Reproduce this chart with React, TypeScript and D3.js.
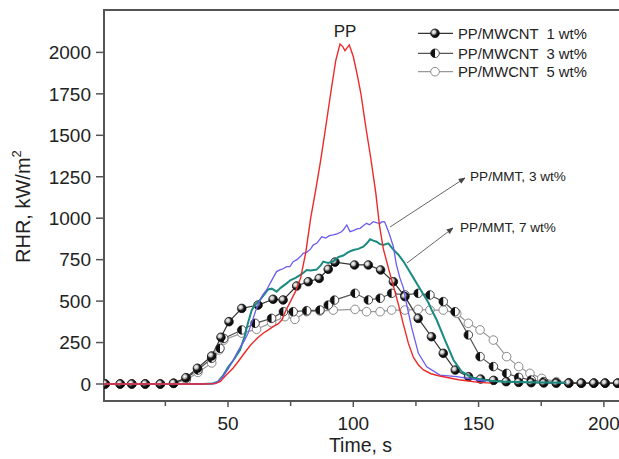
import React from "react";
import * as d3 from "d3";

// ---- data ----
const xTicksMajor = [50, 100, 150, 200];
const xTicksMinor = [25, 75, 125, 175];
const yTicks = [0, 250, 500, 750, 1000, 1250, 1500, 1750, 2000];

const ppTime = [0, 20, 40, 45, 47, 49, 52, 54, 56, 59, 62, 64, 66, 68, 70, 71.5, 73, 75, 77, 79, 81, 83, 85, 87, 89, 91, 93, 94.7, 95.8, 96.7, 98.4, 100, 101.5, 103, 105, 107, 109, 110.5, 112, 114, 116, 118, 120, 122, 124, 126, 128, 131, 134, 138, 142, 146, 150, 155];
const ppValue = [0, 0, 0, 2, 15, 50, 95, 134, 175, 235, 280, 306, 325, 346, 362, 386, 440, 500, 560, 640, 790, 1000, 1170, 1350, 1550, 1755, 1950, 2050, 2035, 2010, 2045, 1975, 1870, 1755, 1550, 1360, 1150, 950, 815, 700, 590, 480, 360, 245, 160, 115, 85, 62, 50, 38, 26, 18, 10, 5];

const mmt3Time = [0, 20, 40, 44, 46, 48, 50, 52, 53.5, 55, 56.5, 58, 59.5, 61, 62.8, 64, 65.4, 66.8, 68, 69.4, 70.7, 72, 73.4, 74.7, 76, 77.5, 79, 80, 81.5, 83, 84, 85.5, 87.4, 89, 90.5, 92, 93.5, 95, 96, 97.4, 98.7, 100, 101.5, 102.7, 104, 105.3, 106.5, 108, 109.5, 110.7, 111.5, 112.5, 113.3, 114.5, 116, 117.2, 118.6, 120, 121.3, 123.3, 126, 129.3, 134.6, 141.3, 147.9, 153];
const mmt3Value = [0, 0, 0, 3, 14, 45, 90, 140, 185, 225, 260, 306, 370, 440, 507, 540, 567, 607, 640, 678, 688, 695, 708, 708, 738, 750, 770, 788, 795, 815, 838, 850, 888, 880, 895, 899, 905, 915, 929, 959, 919, 925, 935, 939, 955, 969, 960, 979, 972, 969, 979, 978, 949, 900, 828, 720, 640, 580, 480, 340, 185, 104, 54, 44, 28, 15];

const mmt7Time = [0, 20, 40, 44, 46, 48, 50, 52, 54.8, 56.5, 58, 59.5, 61, 62.8, 64.5, 66, 67.5, 69.4, 71, 73.4, 75, 77, 78.7, 80, 81.4, 83, 85.4, 87, 88, 90, 92, 94, 96, 98, 100, 102, 104, 105.5, 106.7, 108, 109.3, 110.5, 112, 114, 116, 118, 120, 122, 124, 126, 128, 130, 131.5, 133.3, 136.6, 140, 143.3, 147.9, 154.6, 160, 170, 185];
const mmt7Value = [0, 0, 0, 3, 14, 50, 100, 140, 205, 280, 370, 446, 480, 507, 540, 570, 575, 557, 580, 607, 627, 640, 657, 670, 688, 685, 690, 715, 738, 730, 740, 765, 775, 795, 808, 815, 828, 850, 873, 865, 858, 845, 838, 848, 810, 780, 740, 690, 640, 590, 540, 490, 440, 386, 265, 145, 74, 34, 20, 14, 10, 8];

const mw1Time = [1, 7, 11.6, 17, 23, 28.3, 33.2, 37.8, 43.5, 47.2, 50.4, 55.5, 62, 68, 72, 77.4, 82, 86.4, 90, 92.7, 100.5, 106, 110.9, 116, 120.6, 125.9, 131.2, 135.9, 140.7, 146, 150.8, 156, 161, 166, 171, 176, 181, 186, 191, 196, 200.5, 205.5];
const mw1Value = [0, 0, 0, 0, 0, 4, 38, 95, 169, 282, 376, 456, 476, 511, 507, 591, 617, 637, 692, 735, 718, 718, 688, 617, 527, 396, 285, 185, 84, 44, 30, 22, 14, 10, 8, 6, 5, 5, 5, 5, 5, 5];

const mw3Time = [1, 7, 11.6, 17, 23, 28.3, 33.4, 38, 43.5, 46.8, 48.3, 55.5, 60.8, 67.4, 72.1, 76, 81.4, 86.7, 90, 92.5, 100.7, 106, 110.7, 115.3, 120.6, 125.9, 130.6, 135.9, 140.6, 145.9, 150.6, 155.9, 161.2, 166, 171, 176, 181, 186, 191, 196, 200.5, 205.5];
const mw3Value = [0, 0, 0, 0, 0, 5, 36, 84, 155, 215, 275, 326, 366, 396, 436, 436, 442, 446, 476, 506, 547, 507, 517, 547, 537, 547, 537, 497, 436, 296, 165, 105, 64, 40, 24, 14, 8, 6, 5, 5, 5, 5];

const mw5Time = [1, 7, 11.6, 17, 23, 28.3, 33.4, 38, 43.5, 46.5, 48.3, 55.5, 61.4, 67.4, 72.7, 76.7, 81.4, 86.7, 92, 100.7, 105.3, 110.7, 115.3, 120.6, 125.9, 130.6, 135.9, 141.3, 145.9, 150.6, 155.9, 161.2, 166, 170.5, 175.2, 181, 186, 191, 196, 200.5, 205.5];
const mw5Value = [0, 0, 0, 0, 0, 3, 25, 70, 127, 205, 265, 307, 330, 370, 406, 390, 436, 440, 446, 450, 436, 436, 446, 446, 450, 446, 446, 426, 366, 326, 265, 165, 105, 64, 34, 14, 8, 6, 5, 5, 5];

const legendLabels = ["PP/MWCNT  1 wt%", "PP/MWCNT  3 wt%", "PP/MWCNT  5 wt%"];
const annotationLabels = ["PP/MMT, 3 wt%", "PP/MMT, 7 wt%"];

const FONT = "'Liberation Sans', Arial, Helvetica, sans-serif";

export default function App() {
  const W = 619, H = 459;
  const left = 104, top = 10, bottom = 401, right = 619;
  const x = d3.scaleLinear().domain([0, 206]).range([102.7, 618.9]);
  const y = d3.scaleLinear().domain([0, 2000]).range([384, 52.4]);

  const line = d3.line<[number, number]>().x(d => x(d[0])).y(d => y(d[1]));
  const zip = (t: number[], v: number[]) => t.map((tt, i) => [tt, v[i]] as [number, number]);

  const pp = zip(ppTime, ppValue);
  const m3 = zip(mmt3Time, mmt3Value);
  const m7 = zip(mmt7Time, mmt7Value);
  const w1 = zip(mw1Time, mw1Value);
  const w3 = zip(mw3Time, mw3Value);
  const w5 = zip(mw5Time, mw5Value);

  const r = 4.3;
  const marker1 = (cx: number, cy: number, k: number) => (
    <g key={k}>
      <circle cx={cx} cy={cy} r={r} fill="url(#sphere)" stroke="#111" strokeWidth={0.8} />
    </g>
  );
  const marker3 = (cx: number, cy: number, k: number) => (
    <g key={k}>
      <circle cx={cx} cy={cy} r={r} fill="#fff" stroke="#222" strokeWidth={0.8} />
      <path d={`M${cx},${cy - r} A${r},${r} 0 0,0 ${cx},${cy + r} Z`} fill="#111" />
    </g>
  );
  const marker5 = (cx: number, cy: number, k: number) => (
    <circle key={k} cx={cx} cy={cy} r={r} fill="#fff" stroke="#8a8a8a" strokeWidth={1} />
  );

  const legendY = [33.3, 53.3, 71.7];
  const legendMarkers = [marker1, marker3, marker5];
  const legendLine = ["#333", "#555", "#999"];

  return (
    <svg width={W} height={H} style={{ position: "absolute", left: 0, top: 0, background: "#fff" }} fontFamily={FONT}>
      <defs>
        <radialGradient id="sphere" cx="35%" cy="35%" r="65%">
          <stop offset="0%" stopColor="#ffffff" />
          <stop offset="35%" stopColor="#bbbbbb" />
          <stop offset="60%" stopColor="#222" />
          <stop offset="100%" stopColor="#000" />
        </radialGradient>
        <marker id="arrow" viewBox="0 0 10 10" refX="9" refY="5" markerWidth="7" markerHeight="7" orient="auto">
          <path d="M0,1 L10,5 L0,9 z" fill="#444" />
        </marker>
        <clipPath id="plot">
          <rect x={left} y={top} width={right - left} height={bottom - top} />
        </clipPath>
      </defs>
      <rect width={W} height={H} fill="#fff" />

      {/* frame */}
      <line x1={left} x2={right} y1={top} y2={top} stroke="#555" strokeWidth={2} />
      <line x1={left} x2={left} y1={top - 1} y2={bottom + 1} stroke="#555" strokeWidth={2} />
      <line x1={left} x2={right} y1={bottom} y2={bottom} stroke="#555" strokeWidth={2} />

      {/* y ticks */}
      {yTicks.map(t => (
        <g key={t}>
          <line x1={96} x2={left} y1={y(t)} y2={y(t)} stroke="#555" strokeWidth={1.5} />
          <text x={91} y={y(t)} dy="0.36em" textAnchor="end" fontSize={19} fill="#222">{t}</text>
        </g>
      ))}
      {/* x ticks */}
      {xTicksMajor.map(t => (
        <g key={t}>
          <line x1={x(t)} x2={x(t)} y1={bottom} y2={bottom + 6} stroke="#555" strokeWidth={1.5} />
          <text x={x(t)} y={430} textAnchor="middle" fontSize={19} fill="#222">{t}</text>
        </g>
      ))}
      {xTicksMinor.map(t => (
        <line key={t} x1={x(t)} x2={x(t)} y1={bottom} y2={bottom + 5} stroke="#555" strokeWidth={1.5} />
      ))}

      {/* axis titles */}
      <text x={360.5} y={452} textAnchor="middle" fontSize={19.5} fill="#222">Time, s</text>
      <text transform="translate(30,263) rotate(-90)" fontSize={20} fill="#222">
        RHR, kW/m<tspan fontSize={13} dy={-9}>2</tspan>
      </text>

      <g clipPath="url(#plot)">
        {/* marker series lines */}
        <path d={line(w5) || ""} fill="none" stroke="#999" strokeWidth={1.2} />
        <path d={line(w3) || ""} fill="none" stroke="#555" strokeWidth={1.2} />
        <path d={line(w1) || ""} fill="none" stroke="#333" strokeWidth={1.2} />
        {w5.map((d, i) => marker5(x(d[0]), y(d[1]), i))}
        {w3.map((d, i) => marker3(x(d[0]), y(d[1]), i))}
        {w1.map((d, i) => marker1(x(d[0]), y(d[1]), i))}

        {/* continuous curves */}
        <path d={line(m7) || ""} fill="none" stroke="#1b8a80" strokeWidth={2} />
        <path d={line(m3) || ""} fill="none" stroke="#6b5cf2" strokeWidth={1.3} />
        <path d={line(pp) || ""} fill="none" stroke="#ec2a2a" strokeWidth={1.4} />
      </g>

      {/* PP label */}
      <text x={345} y={37} textAnchor="middle" fontSize={17} fill="#222">PP</text>

      {/* legend */}
      {legendLabels.map((lab, i) => (
        <g key={lab}>
          <line x1={418} x2={453} y1={legendY[i]} y2={legendY[i]} stroke={legendLine[i]} strokeWidth={1.2} />
          {legendMarkers[i](435, legendY[i], i)}
          <text x={458} y={legendY[i]} dy="0.36em" fontSize={14.8} fill="#222" style={{ whiteSpace: "pre" }}>{lab}</text>
        </g>
      ))}

      {/* annotations */}
      <line x1={390} y1={227} x2={465} y2={178} stroke="#666" strokeWidth={1} markerEnd="url(#arrow)" />
      <line x1={407} y1={263} x2={453} y2={228} stroke="#666" strokeWidth={1} markerEnd="url(#arrow)" />
      <text x={470} y={181} fontSize={13.6} fill="#222">{annotationLabels[0]}</text>
      <text x={460} y={232} fontSize={13.6} fill="#222">{annotationLabels[1]}</text>
    </svg>
  );
}
